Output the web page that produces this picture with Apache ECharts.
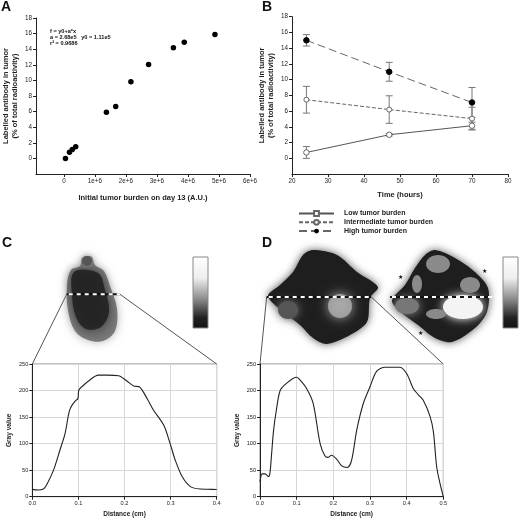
<!DOCTYPE html>
<html><head><meta charset="utf-8">
<script src="https://cdn.jsdelivr.net/npm/echarts@6/dist/echarts.min.js"></script>
<style>html,body{margin:0;padding:0;background:#fff}#c{width:520px;height:520px}</style>
</head><body><div id="c"></div>
<script>
// Panel A data
const burden = [0.05e6, 0.18e6, 0.27e6, 0.38e6, 1.37e6, 1.67e6, 2.16e6, 2.73e6, 3.53e6, 3.88e6, 4.87e6];
const antibodyA = [0, 0.8, 1.15, 1.5, 5.93, 6.65, 9.83, 12.03, 14.2, 14.9, 15.9];
const aXTicks = [0, 1e6, 2e6, 3e6, 4e6, 5e6, 6e6];
const yTicksAB = [0, 2, 4, 6, 8, 10, 12, 14, 16, 18];
const fitText = ['f = y0+a*x', 'a = 2.68e5   y0 = 1.11e5', 'r\u00b2 = 0.9686'];
// Panel B data
const times = [24, 47, 70];
const lowMean = [0.75, 3.0, 4.15];
const lowErr = [0.75, 0.15, 0.45];
const intMean = [7.45, 6.2, 5.05];
const intErr = [1.7, 1.75, 1.45];
const highMean = [15.0, 11.0, 7.1];
const highErr = [0.73, 1.2, 1.9];
const bXTicks = [20, 30, 40, 50, 60, 70, 80];
const legendNames = ['Low tumor burden', 'Intermediate tumor burden', 'High tumor burden'];
// Panel C profile
const cDist = [0, 0.013, 0.024, 0.031, 0.046, 0.060, 0.071, 0.078, 0.081, 0.086, 0.093, 0.099, 0.101, 0.111, 0.125, 0.143, 0.162, 0.187, 0.205, 0.22, 0.232, 0.249, 0.263, 0.285, 0.299, 0.31, 0.325, 0.343, 0.364, 0.38, 0.4];
const cGray = [13.8, 12.5, 14.5, 22, 50, 88, 119, 152, 163, 172, 180, 185, 201, 210, 220, 229, 229, 228, 218, 208.5, 207, 185, 163, 135, 100, 69, 38, 19, 14.4, 14, 13.5];
// Panel D profile
const dDist = [0, 0.006, 0.014, 0.023, 0.027, 0.031, 0.037, 0.044, 0.055, 0.073, 0.1, 0.109, 0.127, 0.145, 0.164, 0.177, 0.185, 0.195, 0.21, 0.223, 0.238, 0.25, 0.264, 0.282, 0.3, 0.318, 0.341, 0.382, 0.4, 0.418, 0.432, 0.445, 0.464, 0.473, 0.482, 0.491, 0.5];
const dGray = [28, 43, 43, 38, 44, 75, 125, 160, 200, 214, 225, 220, 204, 176, 100, 77, 74, 78, 70, 58, 55, 69, 126, 176, 207, 236, 244, 244, 232, 204, 192, 182, 151, 122, 56, 25, 0];

const FF = 'Liberation Sans, Arial, sans-serif';
const chart = echarts.init(document.getElementById('c'));

function axLine() { return { show: true, onZero: false, lineStyle: { color: '#222', width: 1 } }; }
function axTick(cv) { const t = { show: true, inside: false, length: 3, lineStyle: { color: '#222' } }; if (cv) t.customValues = cv; return t; }
function axLab(cv, fs, fmt) { const l = { fontSize: fs, color: '#222', margin: 4, fontFamily: FF }; if (cv) l.customValues = cv; if (fmt) l.formatter = fmt; return l; }
const nameStyle = (fs) => ({ fontSize: fs, fontWeight: 'bold', color: '#222', fontFamily: FF, lineHeight: fs + 1.5 });

function errSeries(mean, err) {
  return {
    type: 'custom', xAxisIndex: 1, yAxisIndex: 1, z: 1,
    data: times.map((t, i) => [t, mean[i] - err[i], mean[i] + err[i]]),
    encode: { x: 0, y: [1, 2] },
    renderItem: (params, api) => {
      const p1 = api.coord([api.value(0), api.value(1)]);
      const p2 = api.coord([api.value(0), api.value(2)]);
      const w = 3.5, st = { stroke: '#777', lineWidth: 1 };
      return { type: 'group', children: [
        { type: 'line', shape: { x1: p1[0], y1: p1[1], x2: p2[0], y2: p2[1] }, style: st },
        { type: 'line', shape: { x1: p1[0] - w, y1: p1[1], x2: p1[0] + w, y2: p1[1] }, style: st },
        { type: 'line', shape: { x1: p2[0] - w, y1: p2[1], x2: p2[0] + w, y2: p2[1] }, style: st }
      ] };
    }
  };
}

const gridProfile = { show: true, borderColor: '#888', borderWidth: 1, backgroundColor: 'transparent' };
const split = { show: true, lineStyle: { color: '#d8d8d8', width: 1 } };

const blobShadow = (c, b) => ({ shadowBlur: b, shadowColor: c });
const graphics = [
  // panel letters
  { type: 'text', left: 1, top: 0, style: { text: 'A', font: 'bold 14px ' + FF, fill: '#111' } },
  { type: 'text', left: 262, top: 0, style: { text: 'B', font: 'bold 14px ' + FF, fill: '#111' } },
  { type: 'text', left: 2, top: 236, style: { text: 'C', font: 'bold 14px ' + FF, fill: '#111' } },
  { type: 'text', left: 262, top: 236, style: { text: 'D', font: 'bold 14px ' + FF, fill: '#111' } },
  // fit annotation
  { type: 'text', x: 50, y: 29, style: { text: fitText.join('\n'), font: 'bold 5.6px ' + FF, fill: '#111', lineHeight: 5.8 } },
  // C image
  { type: 'polygon', z: 10, shape: { smooth: 0.35, points: [[87,256],[92,257],[95,265],[104,271],[110,286],[117,309],[115,331],[103,341],[88,340],[75,331],[68,310],[67,285],[71,270],[80,266],[82,258]] }, style: Object.assign({ fill: '#5a5a5a', opacity: 0.75 }, blobShadow('#999', 10)) },
  { type: 'polygon', z: 11, shape: { smooth: 0.35, points: [[74,272],[98,273],[105,290],[109,312],[101,327],[86,329],[76,317],[72,295]] }, style: Object.assign({ fill: '#222', opacity: 0.9 }, blobShadow('#333', 10)) },
  { type: 'circle', z: 11, shape: { cx: 87, cy: 261, r: 5 }, style: Object.assign({ fill: '#555' }, blobShadow('#888', 5)) },
  // D first image
  { type: 'polygon', z: 10, shape: { smooth: 0.3, points: [[313,250],[337,255],[357,272],[378,287],[370,298],[367,322],[350,335],[327,344],[313,338],[300,325],[283,312],[268,296],[280,285],[293,272],[303,255]] }, style: Object.assign({ fill: '#1e1e1e' }, blobShadow('#555', 8)) },
  { type: 'ellipse', z: 11, shape: { cx: 340, cy: 306, rx: 12, ry: 12 }, style: Object.assign({ fill: '#aaa', opacity: 0.85 }, blobShadow('#bbb', 12)) },
  { type: 'ellipse', z: 11, shape: { cx: 288, cy: 310, rx: 10, ry: 9 }, style: Object.assign({ fill: '#555' }, blobShadow('#777', 10)) },
  // D second image
  { type: 'polygon', z: 10, shape: { smooth: 0.3, points: [[435,250],[455,258],[475,272],[488,288],[487,312],[475,328],[452,342],[435,338],[418,325],[398,310],[392,300],[405,285],[415,268],[425,255]] }, style: Object.assign({ fill: '#1e1e1e' }, blobShadow('#555', 8)) },
  { type: 'ellipse', z: 11, shape: { cx: 463, cy: 307, rx: 20, ry: 12 }, style: Object.assign({ fill: '#f4f4f4' }, blobShadow('#fff', 10)) },
  { type: 'ellipse', z: 11, shape: { cx: 407, cy: 306, rx: 12, ry: 8 }, style: Object.assign({ fill: '#777' }, blobShadow('#999', 10)) },
  { type: 'ellipse', z: 12, shape: { cx: 438, cy: 264, rx: 12, ry: 9 }, style: { fill: '#8a8a8a' } },
  { type: 'ellipse', z: 12, shape: { cx: 470, cy: 285, rx: 10, ry: 8 }, style: { fill: '#8a8a8a' } },
  { type: 'ellipse', z: 12, shape: { cx: 417, cy: 284, rx: 5, ry: 9 }, style: { fill: '#8a8a8a' } },
  { type: 'ellipse', z: 12, shape: { cx: 436, cy: 314, rx: 10, ry: 5 }, style: { fill: '#8a8a8a' } },
  { type: 'text', z: 12, x: 398, y: 274, style: { text: '\u2605', font: '6px DejaVu Sans', fill: '#111' } },
  { type: 'text', z: 12, x: 482, y: 268, style: { text: '\u2605', font: '6px DejaVu Sans', fill: '#111' } },
  { type: 'text', z: 12, x: 418, y: 330, style: { text: '\u2605', font: '6px DejaVu Sans', fill: '#111' } },
  // colour bars
  ...[193, 503].map(x => ({ type: 'rect', z: 10, shape: { x: x, y: 257, width: 15, height: 71 }, style: { stroke: '#888', lineWidth: 1, fill: { type: 'linear', x: 0, y: 0, x2: 0, y2: 1, colorStops: [{ offset: 0, color: '#fff' }, { offset: 0.3, color: '#eee' }, { offset: 0.6, color: '#888' }, { offset: 0.85, color: '#222' }, { offset: 1, color: '#111' }] } } })),
  // zoom connector lines
  { type: 'line', z: 9, shape: { x1: 32.3, y1: 364, x2: 66.7, y2: 294.3 }, style: { stroke: '#555', lineWidth: 1 } },
  { type: 'line', z: 9, shape: { x1: 216.7, y1: 364, x2: 120, y2: 294.3 }, style: { stroke: '#555', lineWidth: 1 } },
  { type: 'line', z: 9, shape: { x1: 260, y1: 364, x2: 266.7, y2: 296.7 }, style: { stroke: '#555', lineWidth: 1 } },
  { type: 'line', z: 9, shape: { x1: 443.3, y1: 364, x2: 371, y2: 296.7 }, style: { stroke: '#555', lineWidth: 1 } },
  // dashed profile lines
  ...[[66.7, 120, 294.3], [266.7, 371, 297], [390, 492, 297]].flatMap(s => [
    { type: 'line', z: 20, shape: { x1: s[0], y1: s[2], x2: s[1], y2: s[2] }, style: { stroke: '#111', lineWidth: 2 } },
    { type: 'line', z: 21, shape: { x1: s[0] + 2, y1: s[2], x2: s[1], y2: s[2] }, style: { stroke: '#fff', lineWidth: 2, lineDash: [4, 4] } }
  ])
];

const option = {
  animation: false,
  backgroundColor: '#fff',
  textStyle: { fontFamily: FF },
  grid: [
    { left: 33, top: 18, width: 217, height: 156 },
    { left: 292, top: 16.7, width: 216, height: 157.4 },
    Object.assign({ left: 32.3, top: 364, width: 184.4, height: 132.7 }, gridProfile),
    Object.assign({ left: 260, top: 364, width: 183.3, height: 132.7 }, gridProfile)
  ],
  xAxis: [
    { type: 'value', gridIndex: 0, min: -0.9e6, max: 6e6, axisLine: axLine(), axisTick: axTick(aXTicks), axisLabel: axLab(aXTicks, 6.3, v => v === 0 ? '0' : (v / 1e6) + 'e+6'), splitLine: { show: false },
      name: 'Initial tumor burden on day 13 (A.U.)', nameLocation: 'middle', nameGap: 19, nameTextStyle: nameStyle(7.5) },
    { type: 'value', gridIndex: 1, min: 20, max: 80, axisLine: axLine(), axisTick: axTick(bXTicks), axisLabel: axLab(bXTicks, 6.3), splitLine: { show: false },
      name: 'Time (hours)', nameLocation: 'middle', nameGap: 16, nameTextStyle: nameStyle(7.5) },
    { type: 'value', gridIndex: 2, min: 0, max: 0.4, interval: 0.1, axisLine: axLine(), axisTick: axTick(), axisLabel: axLab(null, 5.6, v => v.toFixed(1)), splitLine: split,
      name: 'Distance (cm)', nameLocation: 'middle', nameGap: 14, nameTextStyle: nameStyle(6.5) },
    { type: 'value', gridIndex: 3, min: 0, max: 0.5, interval: 0.1, axisLine: axLine(), axisTick: axTick(), axisLabel: axLab(null, 5.6, v => v.toFixed(1)), splitLine: split,
      name: 'Distance (cm)', nameLocation: 'middle', nameGap: 14, nameTextStyle: nameStyle(6.5) }
  ],
  yAxis: [
    { type: 'value', gridIndex: 0, min: -2, max: 18, axisLine: axLine(), axisTick: axTick(yTicksAB), axisLabel: axLab(yTicksAB, 6.3), splitLine: { show: false },
      name: 'Labelled antibody in tumor\n(% of total radioactivity)', nameLocation: 'middle', nameGap: 17, nameTextStyle: nameStyle(7.5) },
    { type: 'value', gridIndex: 1, min: -2, max: 18, axisLine: axLine(), axisTick: axTick(yTicksAB), axisLabel: axLab(yTicksAB, 6.3), splitLine: { show: false },
      name: 'Labelled antibody in tumor\n(% of total radioactivity)', nameLocation: 'middle', nameGap: 17, nameTextStyle: nameStyle(7.5) },
    { type: 'value', gridIndex: 2, min: 0, max: 250, interval: 50, axisLine: axLine(), axisTick: axTick(), axisLabel: axLab(null, 5.6), splitLine: split,
      name: 'Gray value', nameLocation: 'middle', nameGap: 19, nameTextStyle: nameStyle(6.5) },
    { type: 'value', gridIndex: 3, min: 0, max: 250, interval: 50, axisLine: axLine(), axisTick: axTick(), axisLabel: axLab(null, 5.6), splitLine: split,
      name: 'Gray value', nameLocation: 'middle', nameGap: 19, nameTextStyle: nameStyle(6.5) }
  ],
  legend: {
    data: legendNames, orient: 'vertical', left: 293, top: 205, itemWidth: 35, itemHeight: 6, itemGap: 1.8,
    textStyle: { fontSize: 7, fontWeight: 'bold', color: '#222', fontFamily: FF, padding: [0, 0, 0, 5] }
  },
  series: [
    { type: 'scatter', xAxisIndex: 0, yAxisIndex: 0, symbolSize: 5.5, itemStyle: { color: '#000', opacity: 1 }, data: burden.map((b, i) => [b, antibodyA[i]]) },
    errSeries(lowMean, lowErr), errSeries(intMean, intErr), errSeries(highMean, highErr),
    { name: 'low', type: 'line', xAxisIndex: 1, yAxisIndex: 1, z: 3, symbol: 'circle', symbolSize: 5.5,
      lineStyle: { color: '#555', width: 1 }, itemStyle: { color: '#fff', borderColor: '#666', borderWidth: 1 }, data: times.map((t, i) => [t, lowMean[i]]) },
    { name: 'Low tumor burden', type: 'line', xAxisIndex: 1, yAxisIndex: 1, symbol: 'rect', symbolSize: 6,
      lineStyle: { color: '#555', width: 1 }, itemStyle: { color: '#fff', borderColor: '#666', borderWidth: 1 }, data: [] },
    { name: 'Intermediate tumor burden', type: 'line', xAxisIndex: 1, yAxisIndex: 1, z: 3, symbol: 'circle', symbolSize: 5,
      lineStyle: { color: '#666', width: 1, type: [4, 2] }, itemStyle: { color: '#fff', borderColor: '#666', borderWidth: 1 }, data: times.map((t, i) => [t, intMean[i]]) },
    { name: 'High tumor burden', type: 'line', xAxisIndex: 1, yAxisIndex: 1, z: 3, symbol: 'circle', symbolSize: 5.5,
      lineStyle: { color: '#666', width: 1, type: [8, 4] }, itemStyle: { color: '#000', borderColor: '#000' }, data: times.map((t, i) => [t, highMean[i]]) },
    { type: 'line', xAxisIndex: 2, yAxisIndex: 2, symbol: 'none', smooth: 0.3, lineStyle: { color: '#222', width: 1.1 }, data: cDist.map((d, i) => [d, cGray[i]]) },
    { type: 'line', xAxisIndex: 3, yAxisIndex: 3, symbol: 'none', smooth: 0.3, lineStyle: { color: '#222', width: 1.1 }, data: dDist.map((d, i) => [d, dGray[i]]) }
  ],
  graphic: { elements: graphics }
};
chart.setOption(option);
</script>
</body></html>
